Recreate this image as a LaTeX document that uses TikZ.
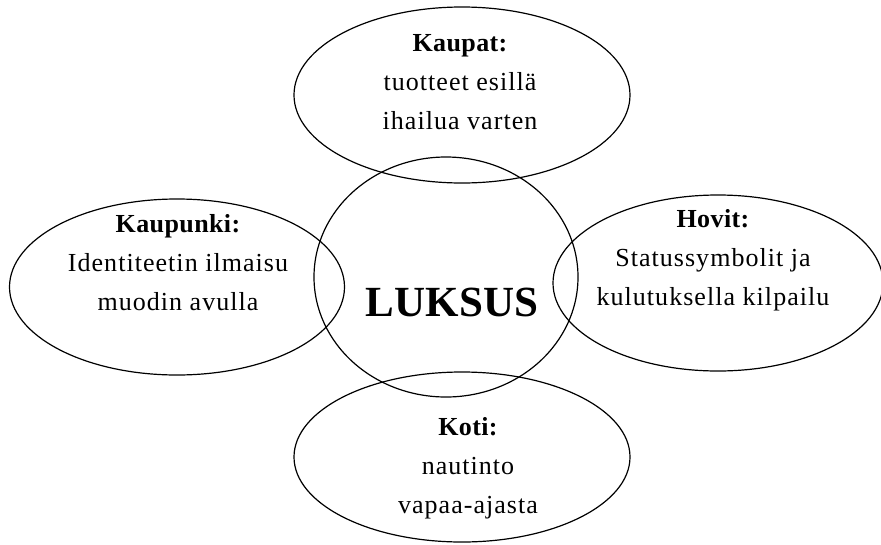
\documentclass[tikz,border=0pt]{standalone}
\usepackage{fontspec}
\setmainfont{Liberation Serif}
\usetikzlibrary{shapes.geometric}

\begin{document}
\begin{tikzpicture}[x=1pt,y=-1pt,
  area/.style={ellipse,draw,line width=1.2pt,inner sep=0pt,minimum width=336pt,minimum height=176pt},
  areatext/.style={align=center,font=\fontsize{26}{39}\selectfont\addfontfeature{LetterSpace=4}}]
\useasboundingbox (0,0) rectangle (881,544);
% Ellipses (centre and four domains)
\node[ellipse,draw,line width=1.2pt,inner sep=0pt,minimum width=264pt,minimum height=240pt] (luksus) at (446,277) {};
\node[area] (kaupat) at (462,95) {};
\node[area,minimum width=335pt] (kaupunki) at (177,287) {};
\node[area,minimum width=330pt] (hovit) at (718,283) {};
\node[area,minimum height=170pt] (koti) at (462,457) {};

% Texts
\node[font=\fontsize{43}{50}\selectfont\bfseries] (luksusteksti) at (452,302) {LUKSUS};
\node[areatext] (kaupatteksti) at (460,82) {{\bfseries\addfontfeature{LetterSpace=1.5}Kaupat:}\\tuotteet esillä\\ihailua varten};
\node[areatext] (kaupunkiteksti) at (178,263) {{\bfseries\addfontfeature{LetterSpace=1.5}Kaupunki:}\\Identiteetin ilmaisu\\muodin avulla};
\node[areatext] (hovitteksti) at (713,260) {{\bfseries\addfontfeature{LetterSpace=1.5}Hovit:}\\Statussymbolit ja\\kulutuksella kilpailu};
\node[areatext] (kotiteksti) at (468,468) {{\bfseries\addfontfeature{LetterSpace=1.5}Koti:}\\nautinto\\vapaa-ajasta};
\end{tikzpicture}
\end{document}
